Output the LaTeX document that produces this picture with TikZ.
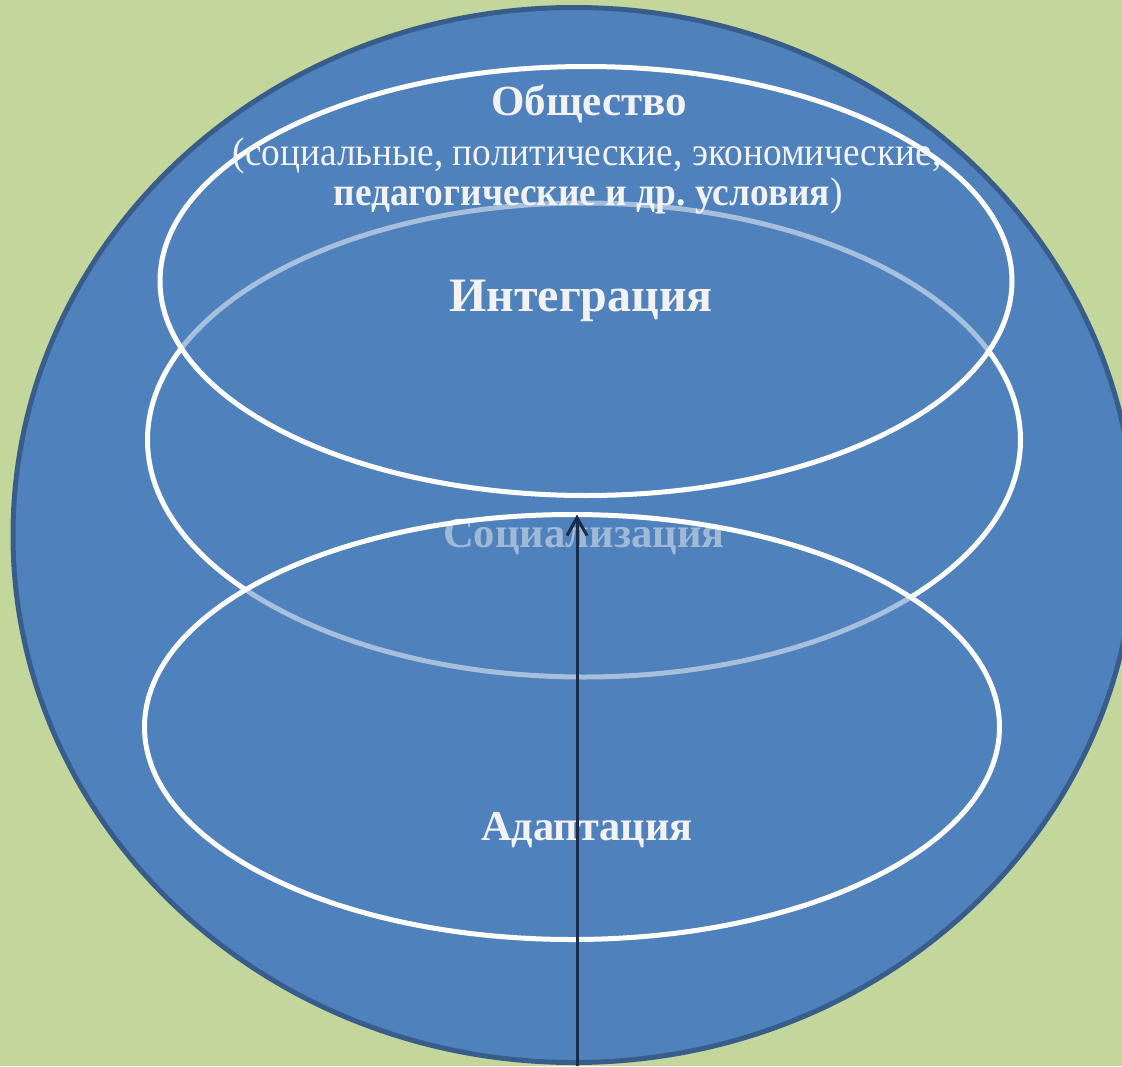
\documentclass[tikz,border=0pt]{standalone}
\usepackage{fontspec}
\setmainfont{Liberation Serif}
\usetikzlibrary{shapes.geometric,arrows.meta}
\definecolor{bgc}{HTML}{C3D69B}
\definecolor{blu}{HTML}{4F81BD}
\definecolor{bord}{HTML}{385D8A}
\definecolor{txt}{HTML}{F2F2F2}
\definecolor{arr}{HTML}{1B2C4B}
\tikzset{
  ring/.style={ellipse, draw=white, line width=5pt, inner sep=0pt, outer sep=0pt},
  cover/.style={ring, fill=blu, fill opacity=0.5},
  lbl/.style={text=txt, anchor=base, inner sep=0pt, font=\bfseries\fontsize{40}{44}\selectfont},
}
\begin{document}
\frenchspacing
\begin{tikzpicture}[x=1pt,y=-1pt]
\useasboundingbox (0,0) rectangle (1122,1066);
\fill[bgc] (0,0) rectangle (1122,1066);
\node[ellipse, draw=bord, fill=blu, line width=5pt, inner sep=0pt, minimum width=1122pt, minimum height=1055pt] (world) at (574,535) {};
\node[ring, minimum width=873pt, minimum height=474pt] (soc) at (584,440) {};
\node[lbl, font=\bfseries\fontsize{42.6}{46}\selectfont] (tsoc) at (584,547) {Социализация};
\node[cover, minimum width=852pt, minimum height=429pt] (top) at (586,281) {};
\node[cover, minimum width=855pt, minimum height=425pt] (adapt) at (572,727) {};
\node[lbl, font=\bfseries\fontsize{43}{46}\selectfont] (t1) at (589,115) {Общество};
\node[lbl, font=\fontsize{40}{44}\selectfont] (t2) at (587,165) {\scalebox{0.933}[1]{(социальные, политические, экономические,}};
\node[lbl, font=\bfseries\fontsize{40}{44}\selectfont] (t3) at (588,205) {\scalebox{0.935}[1]{педагогические и др. условия\textmd{)}}};
\node[lbl, font=\bfseries\fontsize{48}{52}\selectfont] (tint) at (581,311) {Интеграция};
\node[lbl, font=\bfseries\fontsize{42.4}{46}\selectfont] (tad) at (587,840) {Адаптация};
\coordinate (start) at (577,1066);
\draw[arr, line width=3pt, -{Straight Barb[length=18pt,width=20pt,line width=3pt]}] (start) -- (adapt.north -| start);
\end{tikzpicture}
\end{document}
